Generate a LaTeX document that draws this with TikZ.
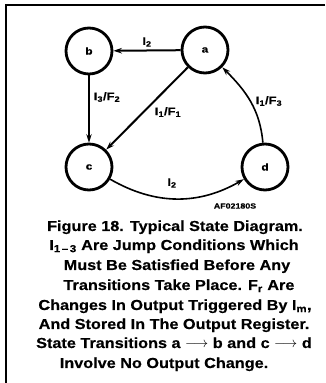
\documentclass[tikz,border=0pt]{standalone}
\usepackage{fontspec}
\setmainfont{Liberation Sans}
\newfontfamily\capfont[FakeStretch=1.18,FakeBold=0.3]{Liberation Sans}
\newfontfamily\captionfont[FakeStretch=1.12,FakeBold=0.4]{Liberation Sans}
\usetikzlibrary{arrows.meta}
\begin{document}
\begin{tikzpicture}[x=1pt,y=1pt,
  state/.style={circle,draw,line width=2.8pt,minimum size=46pt,inner sep=0pt,
    font=\capfont\bfseries\fontsize{10}{12}\selectfont},
  lbl/.style={font=\capfont\bfseries\fontsize{11}{13}\selectfont,inner sep=0pt},
  edge/.style={line width=2pt,-{Stealth[length=8.5pt,width=5.5pt]}},
  cedge/.style={line width=1.6pt,-{Stealth[length=8.5pt,width=5.5pt]}},
  captxt/.style={font=\captionfont\bfseries\fontsize{14.5}{16}\selectfont,anchor=base,inner sep=0pt},
  tag/.style={font=\capfont\bfseries\fontsize{7.5}{9}\selectfont,inner sep=0pt}]
\useasboundingbox (0,0) rectangle (325,383);
% frame
\coordinate (tl) at (6,378);
\coordinate (tr) at (325,378);
\coordinate (bl) at (6,0);
\draw[line width=1.8pt] (tr) -- (tl) -- (bl);
% states
\node[state] (a) at (205,333) {a};
\node[state] (b) at (89,332) {b};
\node[state] (c) at (89,216) {c};
\node[state] (d) at (265,216) {d};
% transitions
\draw[edge] (a) -- (b);
\draw[edge] (b) -- (c);
\draw[edge] (a) -- (c);
\draw[cedge] (c) to[out=-30,in=210] (d);
\draw[cedge] (d) to[out=95,in=-45] (a);
% labels
\node[lbl] (l1) at (147,341) {I\textsubscript{2}};
\node[lbl] (l2) at (107,286) {I\textsubscript{3}/F\textsubscript{2}};
\node[lbl] (l3) at (168,271) {I\textsubscript{1}/F\textsubscript{1}};
\node[lbl] (l4) at (269,282) {I\textsubscript{1}/F\textsubscript{3}};
\node[lbl] (l5) at (172,200) {I\textsubscript{2}};
\node[tag] (af) at (235,177) {AF02180S};
% caption
\node[captxt] (c1) at (175,152) {Figure 18. Typical State Diagram.};
\node[captxt] (c2) at (174,133) {I\textsubscript{1\,–\,3} Are Jump Conditions Which};
\node[captxt] (c3) at (177,113) {Must Be Satisfied Before Any};
\node[captxt] (c4) at (179,93) {Transitions Take Place. F\textsubscript{r} Are};
\node[captxt] (c5) at (175,73) {Changes In Output Triggered By I\textsubscript{m},};
\node[captxt] (c6) at (174,54) {And Stored In The Output Register.};
\node[captxt] (c7) at (174,35) {State Transitions a $\longrightarrow$ b and c $\longrightarrow$ d};
\node[captxt] (c8) at (164,15) {Involve No Output Change.};
\end{tikzpicture}
\end{document}
